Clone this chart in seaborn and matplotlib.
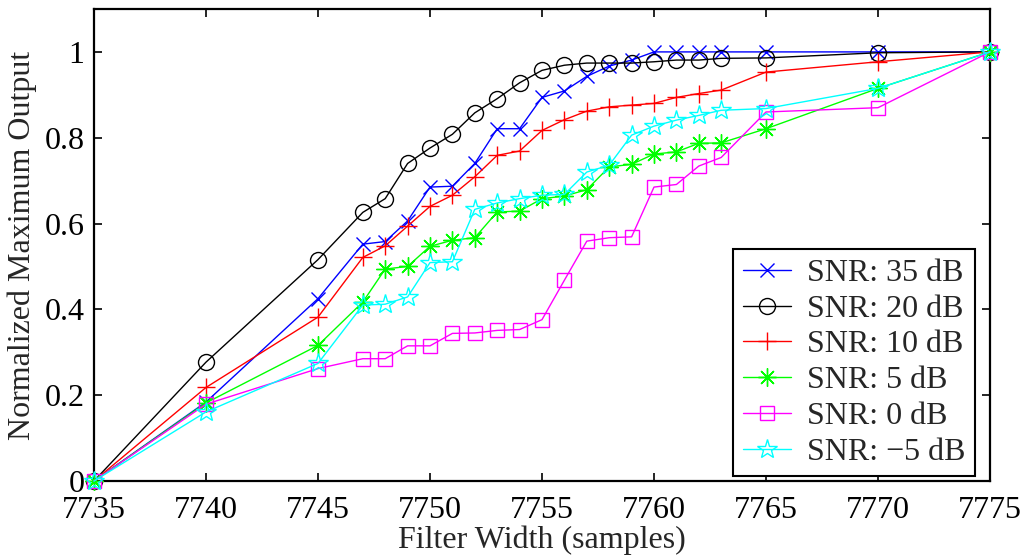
import matplotlib
matplotlib.use("Agg")
import matplotlib.pyplot as plt
import seaborn as sns
import pandas as pd

# Filter widths (samples) per SNR level
width_full = [7735, 7740, 7745, 7747, 7748, 7749, 7750, 7751, 7752, 7753, 7754,
              7755, 7756, 7757, 7758, 7759, 7760, 7761, 7762, 7763, 7765, 7770, 7775]

snr_35 = [0.0, 0.184, 0.425, 0.552, 0.558, 0.606, 0.685, 0.687, 0.740, 0.821, 0.821,
          0.894, 0.909, 0.943, 0.967, 0.981, 1.0, 1.0, 1.0, 1.0, 1.0, 1.0, 1.0]
snr_20 = [0.0, 0.277, 0.516, 0.626, 0.658, 0.740, 0.776, 0.808, 0.858, 0.891, 0.928,
          0.957, 0.969, 0.974, 0.974, 0.974, 0.977, 0.981, 0.981, 0.985, 0.986, 0.998, 1.0]
snr_10 = [0.0, 0.218, 0.382, 0.521, 0.548, 0.594, 0.640, 0.666, 0.709, 0.759, 0.769,
          0.817, 0.842, 0.862, 0.872, 0.876, 0.880, 0.894, 0.903, 0.911, 0.953, 0.977, 1.0]
snr_5 = [0.0, 0.182, 0.316, 0.417, 0.494, 0.500, 0.547, 0.561, 0.567, 0.627, 0.629,
         0.658, 0.664, 0.679, 0.732, 0.738, 0.762, 0.767, 0.787, 0.788, 0.821, 0.915, 1.0]
snr_0 = [0.0, 0.179, 0.262, 0.285, 0.285, 0.315, 0.315, 0.344, 0.345, 0.351, 0.353,
         0.376, 0.468, 0.559, 0.567, 0.569, 0.685, 0.691, 0.734, 0.754, 0.860, 0.870, 1.0]
snr_m5 = [0.0, 0.161, 0.274, 0.410, 0.412, 0.429, 0.509, 0.511, 0.633, 0.648, 0.658,
          0.666, 0.668, 0.720, 0.736, 0.806, 0.827, 0.841, 0.852, 0.864, 0.868, 0.915, 1.0]

labels = ["SNR: 35 dB", "SNR: 20 dB", "SNR: 10 dB", "SNR: 5 dB", "SNR: 0 dB",
          "SNR: \u22125 dB"]
series = [snr_35, snr_20, snr_10, snr_5, snr_0, snr_m5]

x_ticks = [7735, 7740, 7745, 7750, 7755, 7760, 7765, 7770, 7775]
y_ticks = [0, 0.2, 0.4, 0.6, 0.8, 1.0]
y_tick_labels = ["0", "0.2", "0.4", "0.6", "0.8", "1"]

colors = ["#0000ff", "#000000", "#ff0000", "#00ff00", "#ff00ff", "#00ffff"]
markers = ["x", "o", "+", (8, 2, 0), "s", "*"]
msizes = [10, 11.5, 13, 13, 9.5, 15]

sns.set_theme(style="white")
plt.rcParams["font.family"] = ["Liberation Serif", "DejaVu Serif"]

fig = plt.figure(figsize=(10.23, 5.59), dpi=100)
ax = fig.add_axes([94 / 1023, 78 / 559, 896 / 1023, 472 / 559])

for vals, lab, c, m, ms in zip(series, labels, colors, markers, msizes):
    df = pd.DataFrame({"width": width_full, "value": vals})
    sns.lineplot(data=df, x="width", y="value", ax=ax, color=c, label=lab,
                 marker=m, markersize=ms, markeredgecolor=c,
                 markerfacecolor="none", markeredgewidth=1.0, linewidth=1.0,
                 clip_on=False, zorder=3)

ax.set_xlim(7735, 7775)
ax.set_ylim(0, 1.1)
ax.set_xticks(x_ticks)
ax.set_xticklabels([str(t) for t in x_ticks])
ax.set_yticks(y_ticks)
ax.set_yticklabels(y_tick_labels)

ax.tick_params(axis="both", which="major", direction="in", length=6, width=1.2,
               labelsize=23, top=True, right=True, bottom=True, left=True,
               colors="black")
ax.tick_params(axis="x", pad=11)
ax.tick_params(axis="y", pad=7)
for sp in ax.spines.values():
    sp.set_visible(True)
    sp.set_color("black")
    sp.set_linewidth(1.6)

ax.set_xlabel("Filter Width (samples)", fontsize=23, labelpad=0)
ax.set_ylabel("Normalized Maximum Output", fontsize=23, labelpad=5)

leg = ax.legend(loc="upper right", bbox_to_anchor=((975 - 94) / 896, (481 - 249) / 472),
                borderaxespad=0, fontsize=23, frameon=True, fancybox=False,
                framealpha=1, edgecolor="black", handlelength=1.5,
                handletextpad=0.5, labelspacing=0.2, borderpad=0.3)
leg.get_frame().set_linewidth(1.5)

fig.savefig("out.png", dpi=100, facecolor="white")
